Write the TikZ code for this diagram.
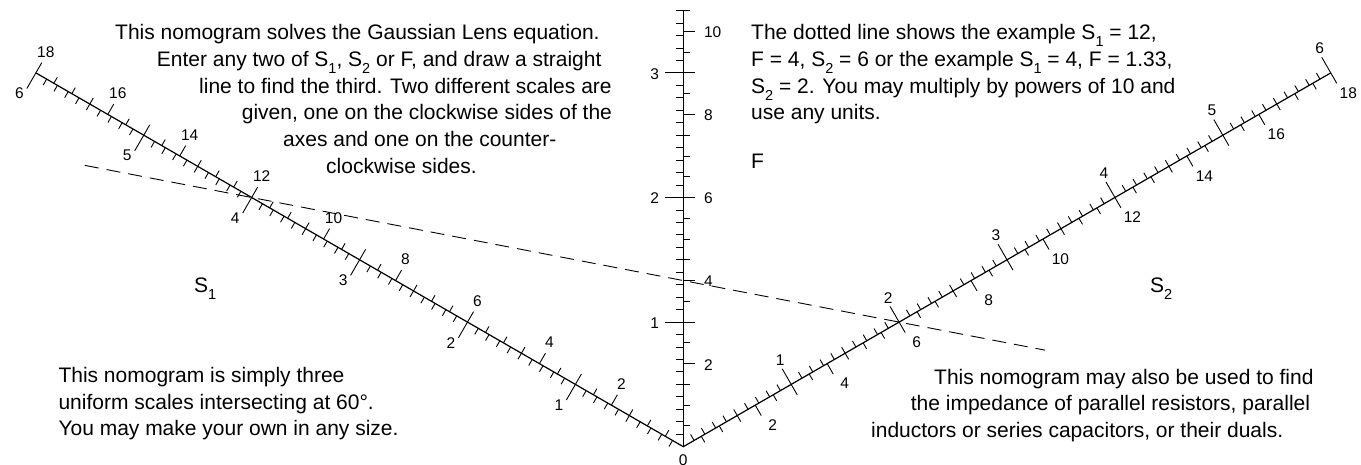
\documentclass[tikz,border=0pt]{standalone}
\usepackage{fontspec}
\setmainfont{Liberation Sans}
\usetikzlibrary{calc}
\newcommand{\lsub}[1]{\raisebox{-0.32em}{\fontsize{14.5}{14.5}\selectfont #1}}
\newcommand{\txtfont}{\fontsize{21}{26.7}\selectfont}
\newcommand{\lblfont}{\fontsize{15.5}{18}\selectfont}
\newcommand{\unitlen}{124.6}
% #1 prefix, #2 direction, #3 small ticks, #4 big ticks,
% #5 small label offset, #6 small label anchor, #7 big label offset, #8 big label anchor
\newcommand{\nomoscale}[8]{%
  \foreach \i in {1,...,#3}{%
    \pgfmathsetmacro{\rr}{\i*\unitlen/10}%
    \pgfmathtruncatemacro{\mm}{mod(\i,10)}%
    \ifnum\mm=0 \def\len{18}\else\def\len{7}\fi
    \coordinate (#1a\i) at ($(O)+(#2:\rr)$);
    \draw[tickline] (#1a\i) -- ++(#2+90:\len);
    \ifnum\mm=0
      \pgfmathtruncatemacro{\vv}{\i/10}%
      \node[lbl,anchor=#6] (#1la\i) at ($(#1a\i)+(#5)$) {\vv};
    \fi
  }%
  \foreach \j in {1,...,#4}{%
    \pgfmathsetmacro{\rr}{\j*\unitlen/6}%
    \pgfmathtruncatemacro{\ma}{mod(\j,4)}%
    \pgfmathtruncatemacro{\mb}{mod(\j,6)}%
    \def\len{7}%
    \ifnum\ma=0 \def\len{12}\fi
    \ifnum\mb=0 \def\len{12}\fi
    \coordinate (#1b\j) at ($(O)+(#2:\rr)$);
    \draw[tickline] (#1b\j) -- ++(#2-90:\len);
    \ifnum\ma=0
      \pgfmathtruncatemacro{\vv}{\j/2}%
      \node[lbl,anchor=#8] (#1lb\j) at ($(#1b\j)+(#7)$) {\vv};
    \fi
  }%
}
\begin{document}
\begin{tikzpicture}[x=1pt,y=1pt,
  axisline/.style={line width=1.2pt,line cap=butt},
  tickline/.style={line width=0.9pt},
  lbl/.style={inner sep=0pt,font=\lblfont},
  txt/.style={inner sep=0pt,anchor=base west,font=\txtfont},
  dashline/.style={line width=0.9pt,dash pattern=on 14pt off 8pt}]
\useasboundingbox (0,0) rectangle (1361,465);
\coordinate (O) at (683.3,18.3);
\coordinate (S1end) at ($(O)+(150:6*\unitlen)$);
\coordinate (S2end) at ($(O)+(30:6*\unitlen)$);
\coordinate (Fend) at ($(O)+(90:3.5*\unitlen)$);
% axes
\draw[axisline] (S1end) -- (O) -- (S2end);
\draw[axisline] (O) -- (Fend);
% scales
\nomoscale{a}{150}{60}{36}{-16.5,-20.5}{center}{10,21}{center}
\nomoscale{f}{90}{35}{21}{-24,-1}{east}{20.5,-1}{west}
\nomoscale{c}{30}{60}{36}{-11,24.5}{center}{17.5,-20}{center}
\node[lbl] (zero) at ($(O)+(0,-13)$) {0};
% axis names
\node[txt] (S1name) at (194,172) {S\lsub{1}};
\node[txt] (S2name) at (1150,172) {S\lsub{2}};
\node[txt] (Fname) at (751,296) {F};
% example line
\coordinate (p12) at ($(O)+(150:4*\unitlen)$);
\coordinate (p6) at ($(O)+(30:2*\unitlen)$);
\coordinate (dA) at ($(p12)!-0.2575!(p6)$);
\coordinate (dB) at ($(p12)!1.2254!(p6)$);
\draw[dashline] (dA) -- (dB);
% top-left text
\node[txt] (tl1) at (115,425) {This nomogram solves the Gaussian Lens equation.};
\node[txt] (tl2) at (156.7,398.3) {Enter any two of S\lsub{1}, S\lsub{2} or F, and draw a straight};
\node[txt] (tl3) at (199,371.7) {line to find the third. Two different scales are};
\node[txt] (tl4) at (241.7,345) {given, one on the clockwise sides of the};
\node[txt] (tl5) at (283,318.3) {axes and one on the counter-};
\node[txt] (tl6) at (326,291.7) {clockwise sides.};
% top-right text
\node[txt] (tr1) at (751,425) {The dotted line shows the example S\lsub{1} = 12,};
\node[txt] (tr2) at (751,398.3) {F = 4, S\lsub{2} = 6 or the example S\lsub{1} = 4, F = 1.33,};
\node[txt] (tr3) at (751,371.7) {S\lsub{2} = 2. You may multiply by powers of 10 and};
\node[txt] (tr4) at (751,345) {use any units.};
% bottom-left text
\node[txt] (bl1) at (58.3,82.3) {This nomogram is simply three};
\node[txt] (bl2) at (58.3,55.7) {uniform scales intersecting at 60°.};
\node[txt] (bl3) at (58.3,29) {You may make your own in any size.};
% bottom-right text
\node[txt] (br1) at (934,80.7) {This nomogram may also be used to find};
\node[txt] (br2) at (910.7,54) {the impedance of parallel resistors, parallel};
\node[txt] (br3) at (871,27.3) {inductors or series capacitors, or their duals.};
\end{tikzpicture}
\end{document}
